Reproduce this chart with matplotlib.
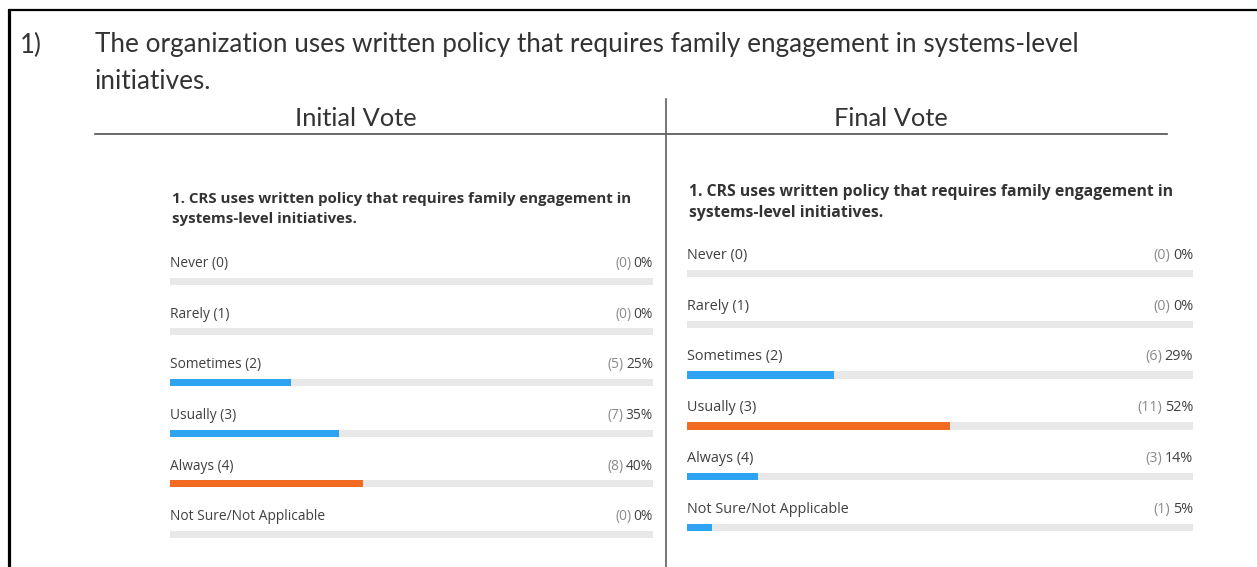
import matplotlib.pyplot as plt

# survey answers, same for both votes
categories = ['Never (0)', 'Rarely (1)', 'Sometimes (2)', 'Usually (3)',
              'Always (4)', 'Not Sure/Not Applicable']
initial_counts = [0, 0, 5, 7, 8, 0]
initial_pct = [0, 0, 25, 35, 40, 0]
final_counts = [0, 0, 6, 11, 3, 1]
final_pct = [0, 0, 29, 52, 14, 5]

question_no = '1)'
question_lines = ['The organization uses written policy that requires family engagement in systems-level',
                  'initiatives.']
poll_lines = ['1. CRS uses written policy that requires family engagement in',
              'systems-level initiatives.']

W, H = 1257, 567
BLUE = '#2ea3f2'
ORANGE = '#f26b22'
TRACK = '#e8e8e8'
CHART_FONT = ['Open Sans', 'DejaVu Sans']
HEAD_FONT = ['Lato', 'DejaVu Sans']

fig = plt.figure(figsize=(W / 100, H / 100), dpi=100)
bg = fig.add_axes([0, 0, 1, 1])
bg.set_xlim(0, W)
bg.set_ylim(H, 0)
bg.axis('off')

# frame of the slide
bg.plot([8, W], [9.5, 9.5], color='black', lw=1.6, solid_capstyle='butt')
bg.plot([9, 9], [8.5, H], color='black', lw=2.3, solid_capstyle='butt')

bg.text(20, 45, question_no, fontsize=18.5, family=HEAD_FONT, color='#333333', va='center')
for i, line in enumerate(question_lines):
    bg.text(95, 44.5 + 37 * i, line, fontsize=18.8, family=HEAD_FONT, color='#333333',
            va='center')

bg.text(356, 118.5, 'Initial Vote', fontsize=18.3, family=HEAD_FONT, color='#333333',
        ha='center', va='center')
bg.text(891, 118.5, 'Final Vote', fontsize=18.3, family=HEAD_FONT, color='#333333',
        ha='center', va='center')
bg.plot([95, 1167], [133.5, 133.5], color='#505050', lw=1.2)
bg.plot([665.5, 665.5], [99, H], color='#606060', lw=1.2)

fig.canvas.draw()
renderer = fig.canvas.get_renderer()


def panel(x0, x1, first_bar, step, title_y, scale, counts, pct):
    top = first_bar - step / 2
    ax = fig.add_axes([x0 / W, 1 - (top + 6 * step) / H, (x1 - x0) / W, 6 * step / H])
    ax.set_xlim(0, 100)
    ax.set_ylim(5.5, -0.5)
    ax.axis('off')
    ypos = list(range(len(categories)))
    colors = [ORANGE if p == max(pct) else BLUE for p in pct]
    bh = 7 * scale / step
    ax.barh(ypos, [100] * len(ypos), height=bh, color=TRACK, left=0)
    ax.barh(ypos, pct, height=bh, color=colors)
    fs = 9.9 * scale
    off = 17.5 * scale / step
    for y, cat, c, p in zip(ypos, categories, counts, pct):
        ax.text(0, y - off, cat, fontsize=fs, family=CHART_FONT, color='#404040',
                va='center', ha='left')
        t = ax.text(100, y - off, f'{p}%', fontsize=fs, family=CHART_FONT,
                    color='#404040', va='center', ha='right')
        bb = t.get_window_extent(renderer)
        xl = ax.transData.inverted().transform((bb.x0 - 2.5 * scale, 0))[0]
        ax.text(xl, y - off, f'({c})', fontsize=fs, family=CHART_FONT,
                color='#8a8a8a', va='center', ha='right')
    for i, line in enumerate(poll_lines):
        bg.text(x0 + 2, title_y + 21 * scale * i, line, fontsize=10.85 * scale,
                family=CHART_FONT, weight='bold', color='#333333', va='center')
    return ax


panel(170, 653, 281.2, 50.6, 198.5, 1.0, initial_counts, initial_pct)
panel(687, 1193, 273.6, 50.75, 191.5, 1.047, final_counts, final_pct)

fig.savefig('out.png', dpi=100, facecolor='white')
